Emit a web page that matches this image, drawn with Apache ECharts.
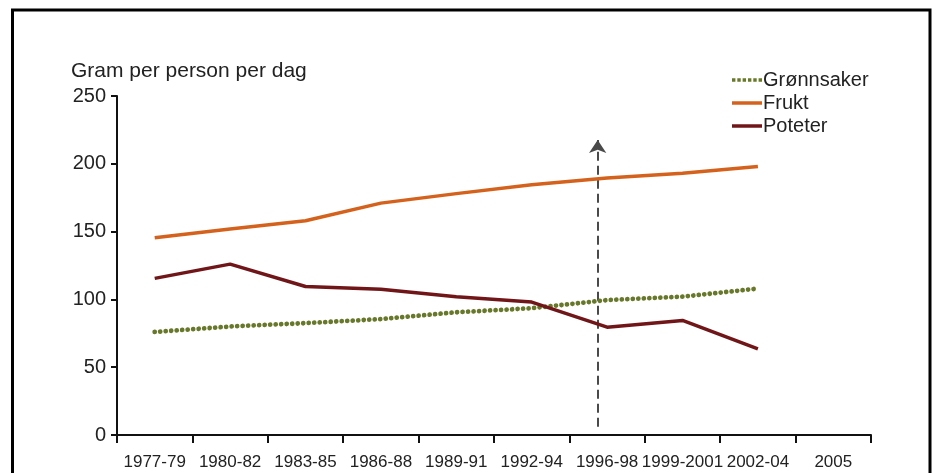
<!DOCTYPE html>
<html>
<head>
<meta charset="utf-8">
<script src="https://cdn.jsdelivr.net/npm/echarts@6/dist/echarts.min.js"></script>
<style>
html,body{margin:0;padding:0;background:#fff;}
#chart{width:937px;height:473px;}
</style>
</head>
<body>
<div id="chart"></div>
<script>
const categories = ['1977-79','1980-82','1983-85','1986-88','1989-91','1992-94','1996-98','1999-2001','2002-04','2005'];
const gronnsaker = [76, 80, 82.5, 85.5, 90.5, 93.5, 99.5, 102, 108, null];
const frukt = [145.5, 152, 158, 171, 178, 184.5, 189.5, 193, 198, null];
const poteter = [115.5, 126, 109.5, 107.5, 102, 98, 79.5, 84.5, 63.5, null];
const yTicks = [0, 50, 100, 150, 200, 250];
// dashed arrow annotation (x in category units from axis start, y in gram)
const arrowX = 6.375;
const arrowY = [6, 217.5];

const font = '"Liberation Sans", Arial, sans-serif';
const dotIcon = 'path://M0,0h3.4v3.4h-3.4z M5.3,0h3.4v3.4h-3.4z M10.6,0h3.4v3.4h-3.4z M15.9,0h3.4v3.4h-3.4z M21.2,0h3.4v3.4h-3.4z M26.5,0h3.4v3.4h-3.4z';
const barIcon = 'path://M0,0H30V3.5H0Z';

const chart = echarts.init(document.getElementById('chart'), null, {renderer: 'canvas'});
chart.setOption({
  animation: false,
  backgroundColor: '#fff',
  textStyle: {fontFamily: font},
  title: {
    text: 'Gram per person per dag',
    left: 66, top: 56,
    textStyle: {fontFamily: font, fontSize: 21, fontWeight: 'normal', color: '#222'}
  },
  legend: {
    data: [
      {name: 'Grønnsaker', icon: dotIcon},
      {name: 'Frukt', icon: barIcon},
      {name: 'Poteter', icon: barIcon}
    ],
    orient: 'vertical',
    left: 727, top: 65,
    itemWidth: 30, itemHeight: 3.5, itemGap: 3,
    textStyle: {fontFamily: font, fontSize: 20, lineHeight: 20, color: '#222', padding: [0, 0, 0, -4]}
  },
  graphic: [{
    type: 'rect', silent: true, z: -1,
    shape: {x: 12.5, y: 10, width: 917.5, height: 500},
    style: {fill: 'none', stroke: '#000', lineWidth: 3}
  }],
  grid: {left: 117, right: 66, top: 96, bottom: 38},
  xAxis: [{
    type: 'category',
    data: categories,
    boundaryGap: true,
    axisLine: {lineStyle: {color: '#111', width: 2}},
    axisTick: {show: true, length: 8, interval: 0, lineStyle: {color: '#111', width: 2}},
    axisLabel: {interval: 0, fontSize: 17, color: '#222', margin: 19, fontFamily: font}
  }, {
    type: 'value', min: 0, max: 10, show: false
  }],
  yAxis: {
    type: 'value', min: 0, max: 250, interval: 50,
    splitLine: {show: false},
    axisLine: {show: true, lineStyle: {color: '#111', width: 2}},
    axisTick: {show: true, length: 6, lineStyle: {color: '#111', width: 2}},
    axisLabel: {fontSize: 20, color: '#222', margin: 11, fontFamily: font,
      formatter: v => yTicks.includes(v) ? String(v) : ''}
  },
  series: [{
    name: 'Grønnsaker', type: 'line', data: gronnsaker, symbol: 'none',
    color: '#68782a',
    lineStyle: {color: '#68782a', width: 4.8, type: [0.01, 5.5], cap: 'round'},
    z: 3
  }, {
    name: 'Frukt', type: 'line', data: frukt, symbol: 'none',
    color: '#d4621c',
    lineStyle: {color: '#d4621c', width: 3.5}
  }, {
    name: 'Poteter', type: 'line', data: poteter, symbol: 'none',
    color: '#711618',
    lineStyle: {color: '#711618', width: 3.5}
  }, {
    name: 'arrow', type: 'lines', coordinateSystem: 'cartesian2d',
    xAxisIndex: 1, yAxisIndex: 0,
    symbol: ['none', 'arrow'], symbolSize: [9, 13],
    lineStyle: {color: '#4a4a4a', width: 2, type: [9, 5], opacity: 1},
    data: [{coords: [[arrowX, arrowY[0]], [arrowX, arrowY[1]]]}],
    silent: true
  }]
});
</script>
</body>
</html>
